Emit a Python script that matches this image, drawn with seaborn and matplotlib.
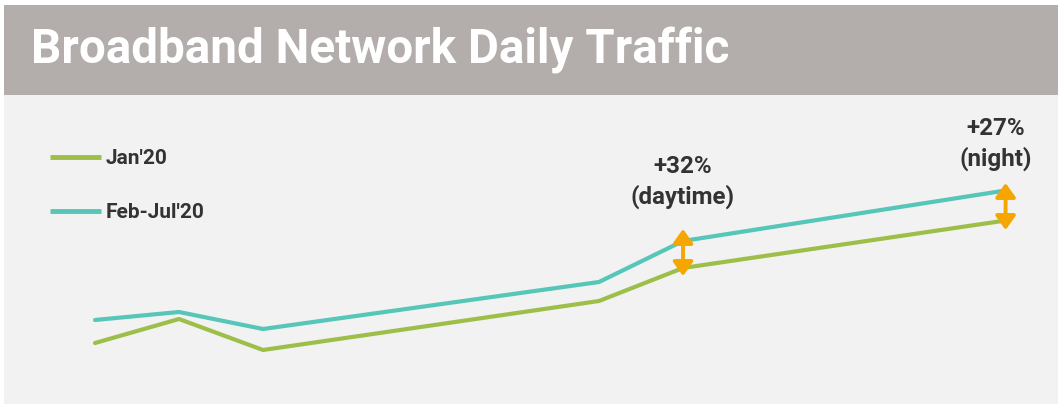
import matplotlib
matplotlib.use("Agg")
import matplotlib.pyplot as plt
from matplotlib.patches import Rectangle
import seaborn as sns
import pandas as pd

# ---- data (arbitrary traffic units) ----
hours = [0, 2, 4, 12, 14, 21.6]
jan20 = [57, 81, 50, 99, 132, 179]
febjul20 = [80, 88, 71, 118, 159, 209]
series_names = ["Jan'20", "Feb-Jul'20"]
annotations = ["+32%\n(daytime)", "+27%\n(night)"]
annot_hours = [14, 21.6]

title = "Broadband Network Daily Traffic"

GREEN = "#9dbf4a"
TEAL = "#56c6b9"
ORANGE = "#f7a500"
TXT = "#333333"

sns.set_theme(style="white")
plt.rcParams["font.family"] = ["Roboto", "DejaVu Sans"]

W, H = 1058, 404
fig = plt.figure(figsize=(W / 100, H / 100), dpi=100)
fig.patch.set_facecolor("white")

def fx(px):
    return px / W

def fy(py):
    return 1 - py / H

# panel and title band
fig.patches.append(Rectangle((fx(4), 0), fx(W - 4), fy(95), transform=fig.transFigure,
                             facecolor="#f2f2f2", edgecolor="none", zorder=-2))
fig.patches.append(Rectangle((fx(4), fy(95)), fx(W - 4), (95 - 5) / H, transform=fig.transFigure,
                             facecolor="#b3aeab", edgecolor="none", zorder=-2))
fig.text(fx(31), fy(51), title, color="white", fontsize=34.3, fontweight="bold",
         ha="left", va="center")

ax = fig.add_axes([fx(4), 0, fx(W - 4), (404 - 95) / H])
ax.set_zorder(2)
ax.patch.set_alpha(0)

df = pd.DataFrame({
    "hour": hours * 2,
    "traffic": jan20 + febjul20,
    "series": [series_names[0]] * len(hours) + [series_names[1]] * len(hours),
})
sns.lineplot(data=df, x="hour", y="traffic", hue="series", palette=[GREEN, TEAL],
             linewidth=3, ax=ax, legend=True)

scale = 42.0
ax.set_xlim((4 - 95) / scale, (W - 95) / scale)
ax.set_ylim(-4, 305)
ax.axis("off")

# arrows and annotation labels
arrow_dx = [0.0, 0.08]
arrow_top = [12, 8]
arrow_bot = [8, 9]
text_dx = [0.0, -0.15]
text_dy = [59, 47]
for i, (h, txt) in enumerate(zip(annot_hours, annotations)):
    lo = jan20[hours.index(h)]
    hi = febjul20[hours.index(h)]
    ax.annotate("", xy=(h + arrow_dx[i], hi + arrow_top[i]),
                xytext=(h + arrow_dx[i], lo - arrow_bot[i]),
                arrowprops=dict(arrowstyle="<|-|>,head_length=0.42,head_width=0.3",
                                color=ORANGE, lw=2.8,
                                mutation_scale=20, shrinkA=0, shrinkB=0))
    ax.text(h + text_dx[i], hi + text_dy[i], txt,
            ha="center", va="center", fontsize=17.4, fontweight="bold",
            color=TXT, linespacing=1.3)

leg = ax.legend(loc="upper left", bbox_to_anchor=(fx(40), fy(139)),
                bbox_transform=fig.transFigure, frameon=False,
                handlelength=2.45, handletextpad=0.2, labelspacing=1.68,
                borderpad=0, prop={"family": "Roboto", "weight": "bold", "size": 15})
for t in leg.get_texts():
    t.set_color(TXT)
for l in leg.get_lines():
    l.set_linewidth(3.5)
    l.set_solid_capstyle("butt")

fig.savefig("out.png", dpi=100)
